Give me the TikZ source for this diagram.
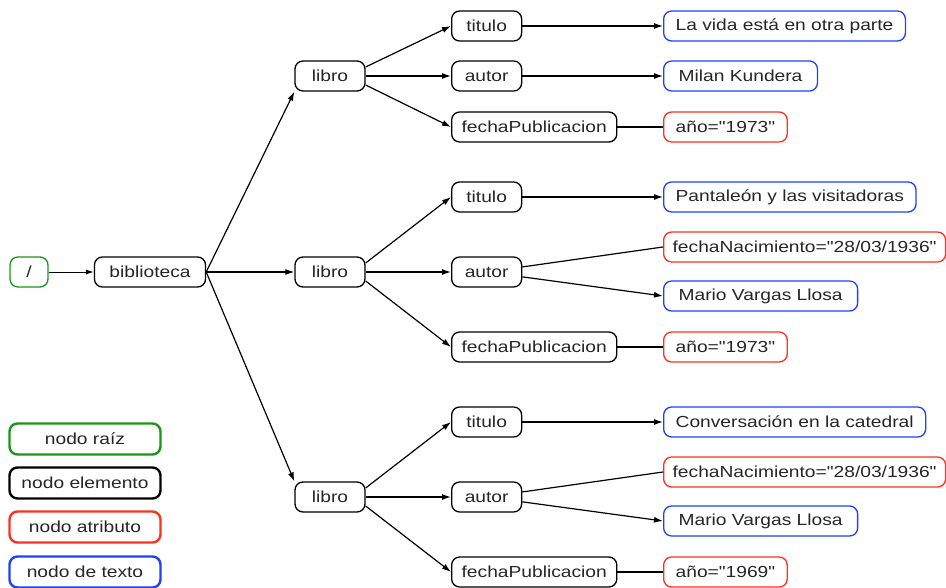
\documentclass[tikz,border=0pt]{standalone}
\usepackage{fontspec}
\setmainfont{Liberation Sans}[FakeStretch=1.2, Ligatures=TeXOff]
\usepackage{xcolor}
\usetikzlibrary{arrows.meta, positioning}
\definecolor{raiz}{RGB}{25,150,25}
\definecolor{atributo}{RGB}{250,50,30}
\definecolor{texto}{RGB}{30,65,250}
\tikzset{
  nodo/.style={draw, rounded corners=8bp, line width=1.3bp, minimum height=30bp, inner xsep=12bp, inner ysep=0pt, font=\fontsize{16bp}{18bp}\selectfont, text=black!85},
  elem/.style={nodo, minimum width=70bp},
  attr/.style={nodo, draw=atributo, anchor=west},
  txt/.style={nodo, draw=texto, anchor=west},
  leyenda/.style={nodo, line width=2.4bp, minimum width=151bp, minimum height=31bp},
  flecha/.style={line width=1.2bp, -{Latex[length=9bp,width=6bp]}},
  linea/.style={line width=1.2bp}
}
\begin{document}
\begin{tikzpicture}[x=1bp, y=-1bp]
\useasboundingbox (0,0) rectangle (946,588);
% Raiz y biblioteca
\node[nodo, draw=raiz, minimum width=38bp, inner xsep=4bp] (raiz) at (29,272) {/};
\node[elem, inner xsep=15bp] (bib) at (150,272) {biblioteca};
\draw[line width=0.9bp, -{Latex[length=8bp,width=5bp]}] (raiz.east) -- (bib.west);
% Libros
\node[elem] (libro1) at (330,76) {libro};
\node[elem] (libro2) at (330,272) {libro};
\node[elem] (libro3) at (330,497) {libro};
\draw[flecha] (bib.east) -- (libro1.south west);
\draw[flecha] (bib.east) -- (libro2.west);
\draw[flecha] (bib.east) -- (libro3.north west);
% Libro 1
\node[elem, anchor=west] (tit1) at (451,26) {titulo};
\node[elem, anchor=west] (aut1) at (451,76) {autor};
\node[elem, anchor=west, inner xsep=10bp] (fp1) at (451,127) {fechaPublicacion};
\node[txt] (txt1) at (663,26) {La vida está en otra parte};
\node[txt, inner xsep=15bp] (txt2) at (663,76) {Milan Kundera};
\node[attr] (anio1) at (663,127) {año="1973"};
\draw[flecha] ([yshift=9bp]libro1.east) -- (tit1.west);
\draw[flecha] (libro1.east) -- (aut1.west);
\draw[flecha] ([yshift=-9bp]libro1.east) -- (fp1.west);
\draw[flecha] (tit1.east) -- (txt1.west);
\draw[flecha] (aut1.east) -- (txt2.west);
\draw[linea] (fp1.east) -- (anio1.west);
% Libro 2
\node[elem, anchor=west] (tit2) at (451,197) {titulo};
\node[elem, anchor=west] (aut2) at (451,272) {autor};
\node[elem, anchor=west, inner xsep=10bp] (fp2) at (451,347) {fechaPublicacion};
\node[txt] (txt3) at (663,197) {Pantaleón y las visitadoras};
\node[attr, inner xsep=9bp] (fnac2) at (663,247) {fechaNacimiento="28/03/1936"};
\node[txt, inner xsep=15bp] (txt4) at (663,296) {Mario Vargas Llosa};
\node[attr] (anio2) at (663,347) {año="1973"};
\draw[flecha] ([yshift=9bp]libro2.east) -- (tit2.west);
\draw[flecha] (libro2.east) -- (aut2.west);
\draw[flecha] ([yshift=-9bp]libro2.east) -- (fp2.west);
\draw[flecha] (tit2.east) -- (txt3.west);
\draw[linea] (aut2) -- (fnac2.west);
\draw[flecha] (aut2) -- (txt4.west);
\draw[linea] (fp2.east) -- (anio2.west);
% Libro 3
\node[elem, anchor=west] (tit3) at (451,422) {titulo};
\node[elem, anchor=west] (aut3) at (451,497) {autor};
\node[elem, anchor=west, inner xsep=10bp] (fp3) at (451,572) {fechaPublicacion};
\node[txt] (txt5) at (663,422) {Conversación en la catedral};
\node[attr, inner xsep=9bp] (fnac3) at (663,472) {fechaNacimiento="28/03/1936"};
\node[txt, inner xsep=15bp] (txt6) at (663,521) {Mario Vargas Llosa};
\node[attr] (anio3) at (663,572) {año="1969"};
\draw[flecha] ([yshift=9bp]libro3.east) -- (tit3.west);
\draw[flecha] (libro3.east) -- (aut3.west);
\draw[flecha] ([yshift=-9bp]libro3.east) -- (fp3.west);
\draw[flecha] (tit3.east) -- (txt5.west);
\draw[linea] (aut3) -- (fnac3.west);
\draw[flecha] (aut3) -- (txt6.west);
\draw[linea] (fp3.east) -- (anio3.west);
% Leyenda
\node[leyenda, draw=raiz] (leyraiz) at (85,439) {nodo raíz};
\node[leyenda, draw=black] (leyelem) at (85,483) {nodo elemento};
\node[leyenda, draw=atributo] (leyattr) at (85,527) {nodo atributo};
\node[leyenda, draw=texto] (leytxt) at (85,572) {nodo de texto};
\end{tikzpicture}
\end{document}
